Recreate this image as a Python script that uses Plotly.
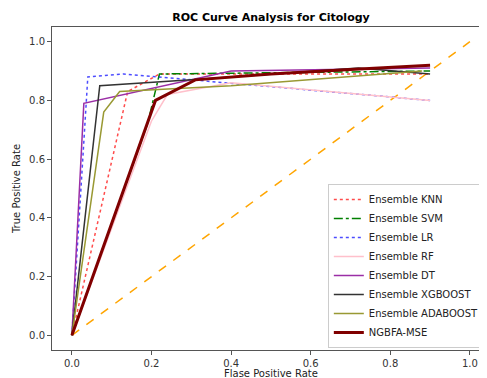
import plotly.graph_objects as go

knn_fpr = [0, 0.14, 0.22, 0.9]
knn_tpr = [0, 0.83, 0.89, 0.89]
svm_fpr = [0, 0.19, 0.22, 0.9]
svm_tpr = [0, 0.72, 0.89, 0.90]
lr_fpr = [0, 0.04, 0.13, 0.9]
lr_tpr = [0, 0.88, 0.89, 0.80]
rf_fpr = [0, 0.2, 0.24, 0.4, 0.9]
rf_tpr = [0, 0.73, 0.82, 0.86, 0.80]
dt_fpr = [0, 0.03, 0.4, 0.9]
dt_tpr = [0, 0.79, 0.90, 0.91]
xgb_fpr = [0, 0.07, 0.3, 0.72, 0.9]
xgb_tpr = [0, 0.85, 0.87, 0.91, 0.89]
ada_fpr = [0, 0.08, 0.12, 0.4, 0.88]
ada_tpr = [0, 0.76, 0.83, 0.85, 0.90]
ngbfa_fpr = [0, 0.21, 0.31, 0.5, 0.7, 0.9]
ngbfa_tpr = [0, 0.80, 0.87, 0.89, 0.905, 0.92]
diag = [0, 1]

series = [
    ("Ensemble KNN", knn_fpr, knn_tpr, "rgba(255,0,0,0.7)", "dot", 1.5),
    ("Ensemble SVM", svm_fpr, svm_tpr, "rgb(0,128,0)", "dashdot", 1.5),
    ("Ensemble LR", lr_fpr, lr_tpr, "rgba(0,0,255,0.7)", "dot", 1.5),
    ("Ensemble RF", rf_fpr, rf_tpr, "pink", "solid", 1.5),
    ("Ensemble DT", dt_fpr, dt_tpr, "#9b2ea6", "solid", 1.5),
    ("Ensemble XGBOOST", xgb_fpr, xgb_tpr, "#333333", "solid", 1.5),
    ("Ensemble ADABOOST", ada_fpr, ada_tpr, "#999933", "solid", 1.5),
    ("NGBFA-MSE", ngbfa_fpr, ngbfa_tpr, "#800000", "solid", 3),
]

fig = go.Figure()
fig.add_trace(go.Scatter(x=diag, y=diag, mode="lines", showlegend=False,
                         line=dict(color="orange", dash="dash", width=1.5)))
for name, x, y, c, d, w in series:
    fig.add_trace(go.Scatter(x=x, y=y, mode="lines", name=name,
                             line=dict(color=c, dash=d, width=w)))

axis_common = dict(showgrid=False, zeroline=False, showline=True, mirror=True,
                   linecolor="#555555", linewidth=1, ticks="outside", ticklen=4,
                   tickcolor="#555555", tickfont=dict(size=10, color="#333333"),
                   automargin=False)
fig.update_layout(
    width=479, height=370,
    margin=dict(l=44, r=0, t=19, b=28),
    plot_bgcolor="white", paper_bgcolor="white",
    font=dict(family="DejaVu Sans", color="#222222"),
    title=dict(text="<b>ROC Curve Analysis for Citology</b>", x=0.549, xanchor="center",
               y=0.976, yanchor="middle", font=dict(size=11, color="black")),
    xaxis=dict(range=[-0.05, 1.043], tickvals=[0, 0.2, 0.4, 0.6, 0.8, 1.0],
               ticktext=["0.0", "0.2", "0.4", "0.6", "0.8", "1.0"],
               **axis_common),
    yaxis=dict(range=[-0.05, 1.05], tickvals=[0, 0.2, 0.4, 0.6, 0.8, 1.0],
               ticktext=["0.0", "0.2", "0.4", "0.6", "0.8", "1.0"],
               title=dict(text="True Positive Rate", font=dict(size=10), standoff=6),
               **axis_common),
    legend=dict(x=0.995, y=0.006, xanchor="right", yanchor="bottom",
                bgcolor="rgba(255,255,255,0.8)", bordercolor="#cccccc", borderwidth=1,
                font=dict(size=10, color="#222222"), tracegroupgap=0, itemwidth=30),
)
fig.add_annotation(text="Flase Positive Rate", xref="paper", yref="paper",
                   x=0.503, y=-0.072, xanchor="center", yanchor="middle",
                   showarrow=False, font=dict(size=10, color="#222222"))
fig.write_html("out.html")
